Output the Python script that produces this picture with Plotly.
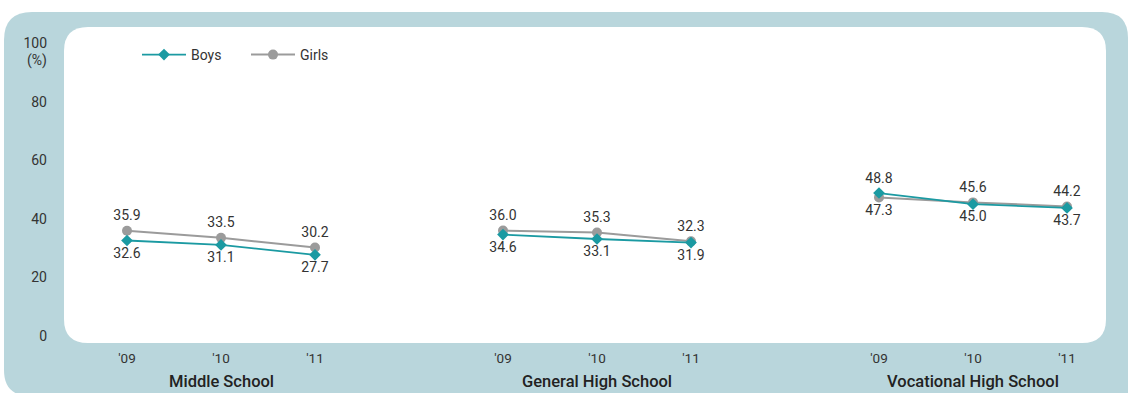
import plotly.graph_objects as go

# ---- data ----
schools = ["Middle School", "General High School", "Vocational High School"]
years = ["'09", "'10", "'11"]
boys = [32.6, 31.1, 27.7, 34.6, 33.1, 31.9, 48.8, 45.0, 43.7]
girls = [35.9, 33.5, 30.2, 36.0, 35.3, 32.3, 47.3, 45.6, 44.2]
y_ticks = [0, 20, 40, 60, 80, 100]

# category positions: three years per school, one empty slot between schools
xpos = []
for g in range(len(schools)):
    for k in range(len(years)):
        xpos.append(g * 4 + k)
tick_text = years * len(schools)

# ---- page geometry (pixels) ----
FW, FH = 1128, 393
ML, MR, MT, MB = 56, 22, 27, 50
PW, PH = FW - ML - MR, FH - MT - MB

TEAL = "#1b9aa2"
GREY = "#9b9b9b"
PANEL = "#b9d6dc"
TXT = "#333333"
FONT = "Roboto, 'DejaVu Sans', sans-serif"


def px_x(px):
    return (px - ML) / PW


def px_y(py):
    return (FH - MB - py) / PH


def rounded_rect(x0, y0, x1, y1, r_tl, r_tr, r_br, r_bl):
    pts = [
        ("M", [(x0 + r_tl, y0)]),
        ("L", [(x1 - r_tr, y0)]),
        ("Q", [(x1, y0), (x1, y0 + r_tr)]),
        ("L", [(x1, y1 - r_br)]),
        ("Q", [(x1, y1), (x1 - r_br, y1)]),
        ("L", [(x0 + r_bl, y1)]),
        ("Q", [(x0, y1), (x0, y1 - r_bl)]),
        ("L", [(x0, y0 + r_tl)]),
        ("Q", [(x0, y0), (x0 + r_tl, y0)]),
    ]
    out = []
    for cmd, pp in pts:
        coords = " ".join(f"{px_x(a):.5f},{px_y(b):.5f}" for a, b in pp)
        out.append(f"{cmd} {coords}")
    return " ".join(out) + " Z"


# labels go above the higher point of each pair, below the lower one
boys_pos = ["top center" if b > g else "bottom center" for b, g in zip(boys, girls)]
girls_pos = ["top center" if g >= b else "bottom center" for b, g in zip(boys, girls)]

fig = go.Figure()
for gi in range(len(schools)):
    sl = slice(gi * 3, gi * 3 + 3)
    fig.add_trace(go.Scatter(
        x=xpos[sl], y=girls[sl], mode="lines+markers+text", name="Girls",
        legendgroup="girls", showlegend=(gi == 0),
        line=dict(color=GREY, width=2),
        marker=dict(symbol="circle", size=10, color=GREY),
        text=[f"{v:.1f}" for v in girls[sl]], textposition=girls_pos[sl],
        textfont=dict(size=14, color=TXT, family=FONT),
        cliponaxis=False,
    ))
    fig.add_trace(go.Scatter(
        x=xpos[sl], y=boys[sl], mode="lines+markers+text", name="Boys",
        legendgroup="boys", showlegend=(gi == 0),
        line=dict(color=TEAL, width=1.8),
        marker=dict(symbol="diamond", size=9, color=TEAL),
        text=[f"{v:.1f}" for v in boys[sl]], textposition=boys_pos[sl],
        textfont=dict(size=14, color=TXT, family=FONT),
        cliponaxis=False,
    ))

# axis ranges so that 0 sits at y=336 px and '09 of the first school at x=127 px
x_step = 94.0
y_unit = 2.93
x0_px, y0_px = 127.0, 336.0
x_range = [(ML - x0_px) / x_step, (ML + PW - x0_px) / x_step]
y_range = [(y0_px - (MT + PH)) / y_unit, (y0_px - MT) / y_unit]

shapes = [
    dict(type="path", xref="paper", yref="paper", layer="below",
         path=rounded_rect(4, 12, 1128, 396, 28, 26, 0, 26),
         fillcolor=PANEL, line=dict(width=0)),
    dict(type="path", xref="paper", yref="paper", layer="below",
         path=rounded_rect(64, 27, 1106, 343, 24, 24, 24, 24),
         fillcolor="white", line=dict(width=0)),
]

annotations = [
    dict(x=gi * 4 + 1, xref="x", y=px_y(381), yref="paper", text=name,
         showarrow=False, xanchor="center", yanchor="middle",
         font=dict(size=16.5, color="#222222", family=FONT, weight=500))
    for gi, name in enumerate(schools)
]
annotations.append(dict(x=px_x(49), xref="paper", y=px_y(60), yref="paper", text="(%)",
                        showarrow=False, xanchor="right", yanchor="middle",
                        font=dict(size=14, color=TXT, family=FONT)))

fig.update_layout(
    width=FW, height=FH,
    margin=dict(l=ML, r=MR, t=MT, b=MB),
    paper_bgcolor="white", plot_bgcolor="rgba(0,0,0,0)",
    font=dict(family=FONT, color=TXT),
    shapes=shapes, annotations=annotations,
    showlegend=True,
    legend=dict(orientation="h", x=px_x(137), y=px_y(39), xanchor="left", yanchor="top",
                bgcolor="rgba(0,0,0,0)", font=dict(size=14, color=TXT, family=FONT),
                traceorder="reversed", itemclick=False,
                itemwidth=44, entrywidth=50, entrywidthmode="pixels"),
    xaxis=dict(range=x_range, tickvals=xpos, ticktext=tick_text, showgrid=False,
               zeroline=False, showline=False, ticks="", ticklabelstandoff=5,
               tickfont=dict(size=13.5, color=TXT, family=FONT), fixedrange=True),
    yaxis=dict(range=y_range, tickvals=y_ticks, showgrid=False, zeroline=False,
               showline=False, ticks="", ticklabelstandoff=8,
               tickfont=dict(size=14, color=TXT, family=FONT), fixedrange=True),
)

fig.write_html("out.html")
